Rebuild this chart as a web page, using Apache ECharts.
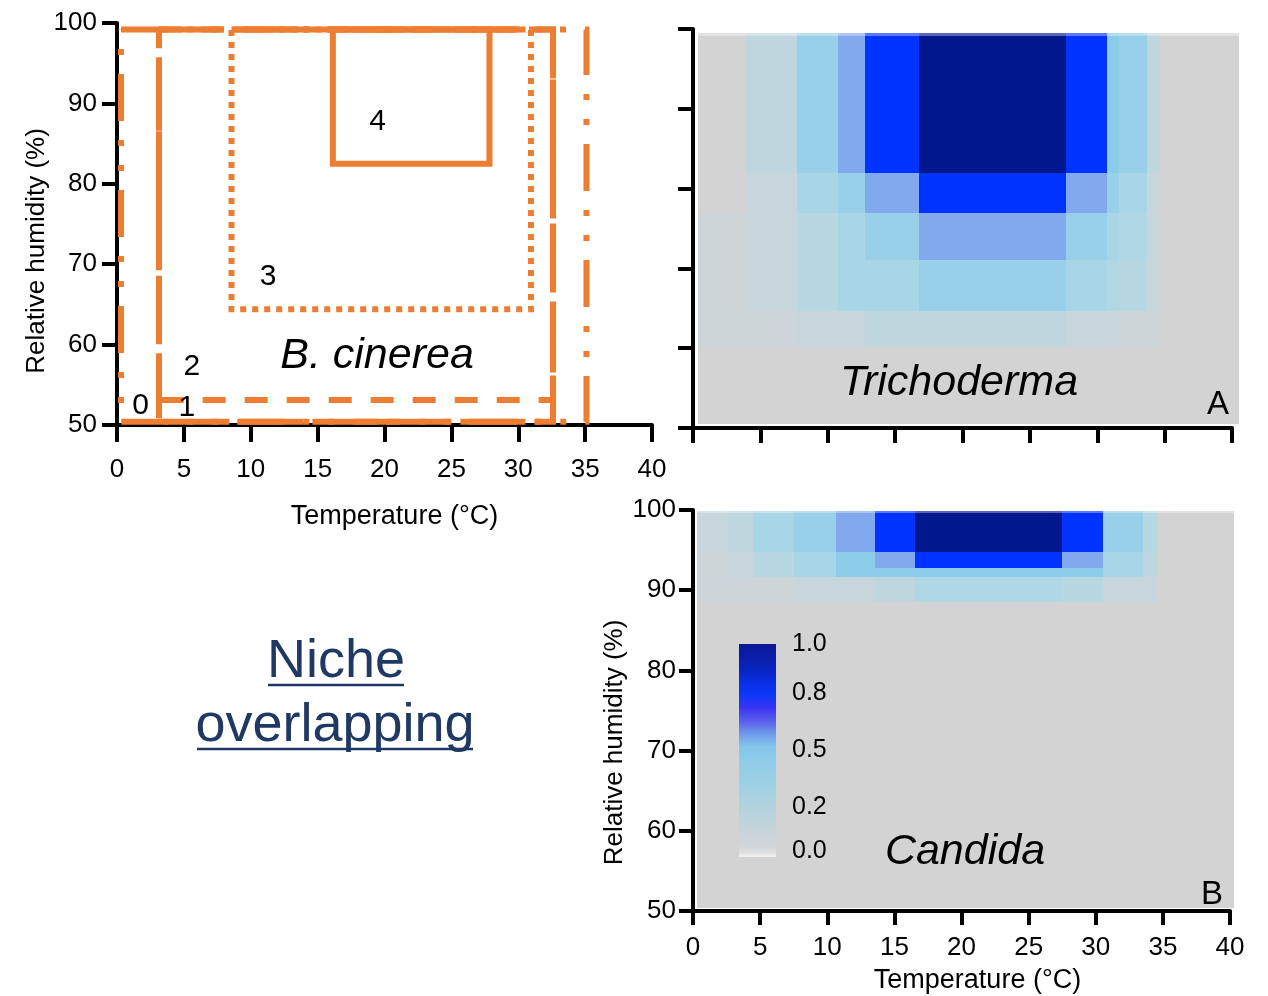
<!DOCTYPE html>
<html>
<head>
<meta charset="utf-8">
<script src="https://cdn.jsdelivr.net/npm/echarts@6/dist/echarts.min.js"></script>
<style>
  html, body { margin: 0; padding: 0; background: #ffffff; }
  #chart { width: 1268px; height: 996px; }
</style>
</head>
<body>
<div id="chart"></div>
<script>
// ---------- B. cinerea growth niches (temperature °C × relative humidity %) ----------
const nicheIds   = ['0', '1', '2', '3', '4'];
const nicheTemp  = [[0.3, 35.1], [3.14, 32.6], [3.14, 32.6], [8.56, 30.95], [16.14, 27.85]];
const nicheRH    = [[50.4, 99.2], [53.1, 99.2], [50.4, 99.2], [64.4, 99.2], [82.5, 99.2]];

// ---------- Trichoderma suitability grid ----------
const trichoTempEdges = [0.37, 3.86, 7.72, 10.76, 12.76, 16.77, 27.68, 30.72, 31.61, 33.69, 34.66, 40.5];
const trichoRHEdges   = [99.5, 81.95, 76.94, 71.05, 64.6, 60.15, 50.5];   // top → bottom
const trichoValues = [
  [0,    0.15, 0.4,  0.6,  0.8,  1.0,  0.8,  0.45, 0.4,  0.15, 0],
  [0,    0.1,  0.3,  0.4,  0.6,  0.8,  0.6,  0.4,  0.3,  0.1,  0],
  [0.05, 0.1,  0.2,  0.3,  0.4,  0.6,  0.4,  0.3,  0.25, 0.1,  0],
  [0.05, 0.1,  0.2,  0.3,  0.3,  0.4,  0.3,  0.25, 0.2,  0.1,  0],
  [0.05, 0.05, 0.1,  0.1,  0.15, 0.15, 0.1,  0.1,  0.05, 0.05, 0],
  [0,    0,    0,    0,    0,    0,    0,    0,    0,    0,    0]
];

// ---------- Candida suitability grid ----------
const candidaTempEdges = [0.3, 2.61, 4.47, 7.52, 10.65, 13.56, 16.54, 27.49, 30.54, 33.52, 34.56, 40.3];
const candidaRHEdges   = [99.9, 94.76, 92.77, 91.65, 88.53];              // top → bottom
const candidaValues = [
  [0.1,  0.15, 0.3,  0.4,  0.6,  0.8,  1.0,  0.8,  0.4,  0.2,  0],
  [0.05, 0.1,  0.2,  0.3,  0.45, 0.6,  0.8,  0.6,  0.3,  0.15, 0],
  [0.05, 0.1,  0.2,  0.3,  0.45, 0.45, 0.45, 0.45, 0.3,  0.15, 0],
  [0.05, 0.05, 0.05, 0.1,  0.1,  0.15, 0.25, 0.2,  0.1,  0.1,  0]
];
const candidaArea = [0.3, 40.3, 50.37, 99.9];   // plotted extent [tMin, tMax, rhMin, rhMax]

// ---------- colour scale ----------
const levelValues = [0, 0.05, 0.1, 0.15, 0.2, 0.25, 0.3, 0.4, 0.45, 0.6, 0.8, 1.0];
const levelColors = ['#D3D3D3', '#CED5D9', '#C6D6DC', '#C0D6DE', '#B6D8E2', '#AFD7E4',
                     '#A8D6E6', '#97D0E8', '#8BCDE9', '#82A8EE', '#0033FF', '#00188C'];
// colour-bar tick values and where each sits along the bar (0 = bottom, 1 = top)
const colorbarTicks   = [0, 0.2, 0.5, 0.8, 1.0];
const colorbarTickPos = [0.028, 0.235, 0.502, 0.77, 1.0];
const colorbarStops = [
  [0.00, '#F2F2F2'], [0.02, '#E0E0E0'], [0.05, '#D2D6D9'], [0.14, '#C4D4DA'],
  [0.24, '#B2D2DE'], [0.33, '#A0D0E4'], [0.45, '#8ECCE8'], [0.52, '#84C6EA'],
  [0.58, '#6E98EA'], [0.64, '#5A5CEC'], [0.70, '#3A34F4'], [0.76, '#0C38F6'],
  [0.82, '#0A30E4'], [0.88, '#0824C0'], [0.95, '#0A1CA4'], [1.00, '#0A1A96']
];

const FONT = 'Liberation Sans, Arial, Helvetica, sans-serif';
const ORANGE = '#ED7D31';
const NAVY_TEXT = '#1F3864';
const nicheDash = [[47, 19, 6, 19, 6, 19], [23, 19], [65, 9], [6, 6], 'solid'];

function cellItems(tEdges, rhEdges, values) {
  const items = [];
  values.forEach((row, r) => row.forEach((v, c) => {
    items.push([tEdges[c], tEdges[c + 1], rhEdges[r + 1], rhEdges[r], v]);
  }));
  return items;
}

function rectFromApi(api) {
  const a = api.coord([api.value(0), api.value(3)]);
  const b = api.coord([api.value(1), api.value(2)]);
  const x0 = Math.round(a[0]), y0 = Math.round(a[1]);
  const x1 = Math.round(b[0]), y1 = Math.round(b[1]);
  return { x: x0, y: y0, width: x1 - x0, height: y1 - y0 };
}

function renderCell(params, api) {
  return { type: 'rect', shape: rectFromApi(api), style: { fill: api.visual('color') } };
}

function renderHaze(params, api) {
  return { type: 'rect', shape: rectFromApi(api), style: { fill: 'rgba(255,255,255,0.35)' } };
}

function renderColorbar(params, api) {
  return {
    type: 'rect',
    shape: rectFromApi(api),
    style: {
      fill: new echarts.graphic.LinearGradient(0, 1, 0, 0,
        colorbarStops.map(s => ({ offset: s[0], color: s[1] })))
    }
  };
}

function rectPath(t, rh) {
  return [[t[0], rh[1]], [t[1], rh[1]], [t[1], rh[0]], [t[0], rh[0]], [t[0], rh[1]]];
}

const axisLine = { show: true, onZero: false, lineStyle: { color: '#000', width: 4 } };
const tickStyle = (len) => ({ show: true, length: len, lineStyle: { color: '#000', width: 4 } });
const textBase = { fontFamily: FONT, color: '#000' };

function textLabel(size, extra) {
  return Object.assign({
    show: true, position: 'inside', formatter: p => p.data[2],
    fontSize: size, fontFamily: FONT, color: '#000', textBorderWidth: 0, opacity: 1
  }, extra || {});
}

const trichoItems = cellItems(trichoTempEdges, trichoRHEdges, trichoValues);
const candidaItems = [[candidaArea[0], candidaArea[1], candidaArea[2], candidaArea[3], 0]]
  .concat(cellItems(candidaTempEdges, candidaRHEdges, candidaValues));

const series = [];

// niche rectangles
nicheIds.forEach((id, i) => {
  series.push({
    type: 'line', xAxisIndex: 0, yAxisIndex: 0, name: 'niche ' + id,
    data: rectPath(nicheTemp[i], nicheRH[i]),
    symbol: 'none', silent: true, clip: false, z: 3,
    lineStyle: { color: ORANGE, width: 6, type: nicheDash[i], cap: 'butt', join: 'miter' }
  });
});

// niche labels and species name
series.push({
  type: 'scatter', xAxisIndex: 0, yAxisIndex: 0, symbolSize: 0, silent: true, z: 4,
  itemStyle: { color: '#000' },
  data: [[1.76, 52.4, '0'], [5.23, 52.2, '1'], [5.6, 57.3, '2'], [11.3, 68.4, '3'], [19.48, 87.7, '4']],
  label: textLabel(30)
});
series.push({
  type: 'scatter', xAxisIndex: 0, yAxisIndex: 0, symbolSize: 0, silent: true, z: 4,
  itemStyle: { color: '#000' },
  data: [[19.44, 58.56, 'B. cinerea']],
  label: textLabel(43, { fontStyle: 'italic' })
});

// Trichoderma cells (index used by visualMap)
const trichoIndex = series.length;
series.push({
  type: 'custom', xAxisIndex: 1, yAxisIndex: 1, renderItem: renderCell, clip: false, silent: true,
  encode: { x: [0, 1], y: [2, 3] }, data: trichoItems, z: 1
});
series.push({
  type: 'custom', xAxisIndex: 1, yAxisIndex: 1, renderItem: renderHaze, clip: false, silent: true,
  encode: { x: [0, 1], y: [2, 3] }, data: [[trichoTempEdges[0], 40.5, 99.15, 99.5]], z: 2
});
series.push({
  type: 'scatter', xAxisIndex: 1, yAxisIndex: 1, symbolSize: 0, silent: true, z: 4,
  itemStyle: { color: '#000' },
  data: [[19.74, 55.64, 'Trichoderma']],
  label: textLabel(43, { fontStyle: 'italic' })
});

// Candida cells
const candidaIndex = series.length;
series.push({
  type: 'custom', xAxisIndex: 2, yAxisIndex: 2, renderItem: renderCell, clip: false, silent: true,
  encode: { x: [0, 1], y: [2, 3] }, data: candidaItems, z: 1
});
series.push({
  type: 'custom', xAxisIndex: 2, yAxisIndex: 2, renderItem: renderHaze, clip: false, silent: true,
  encode: { x: [0, 1], y: [2, 3] }, data: [[candidaArea[0], candidaArea[1], 99.6, 99.9]], z: 2
});
series.push({
  type: 'scatter', xAxisIndex: 2, yAxisIndex: 2, symbolSize: 0, silent: true, z: 4,
  itemStyle: { color: '#000' },
  data: [[20.26, 57.36, 'Candida']],
  label: textLabel(43, { fontStyle: 'italic' })
});

// panel letters
series.push({
  type: 'scatter', xAxisIndex: 1, yAxisIndex: 1, symbolSize: 0, silent: true, z: 4,
  itemStyle: { color: '#000' },
  data: [[38.96, 52.9, 'A']],
  label: textLabel(33)
});
series.push({
  type: 'scatter', xAxisIndex: 2, yAxisIndex: 2, symbolSize: 0, silent: true, z: 4,
  itemStyle: { color: '#000' },
  data: [[38.66, 52.0, 'B']],
  label: textLabel(33)
});

// colour bar and its scale labels
series.push({
  type: 'custom', xAxisIndex: 3, yAxisIndex: 3, renderItem: renderColorbar, clip: false, silent: true,
  encode: { x: [0, 1], y: [2, 3] }, data: [[0, 1, 0, 1]], z: 5
});
series.push({
  type: 'scatter', xAxisIndex: 3, yAxisIndex: 3, symbolSize: 0, silent: true, z: 6,
  itemStyle: { color: '#000' },
  data: colorbarTicks.map((v, i) => [1, colorbarTickPos[i], v.toFixed(1)]),
  label: textLabel(25, { position: 'right', distance: 16 })
});

const option = {
  backgroundColor: '#ffffff',
  animation: false,
  textStyle: { fontFamily: FONT },
  grid: [
    { left: 117, top: 23, width: 535, height: 402 },
    { left: 693, top: 29, width: 539, height: 399 },
    { left: 693, top: 510, width: 537, height: 401 },
    { left: 739, top: 644, width: 37, height: 213 }
  ],
  xAxis: [
    {
      gridIndex: 0, type: 'value', min: 0, max: 40, interval: 5,
      name: 'Temperature (°C)', nameLocation: 'middle', nameGap: 78,
      nameTextStyle: { fontSize: 27, ...textBase, padding: [0, 0, 0, 20] },
      axisLine, axisTick: tickStyle(17), splitLine: { show: false },
      axisLabel: { fontSize: 26, margin: 32, ...textBase }
    },
    {
      gridIndex: 1, type: 'value', min: 0, max: 40, interval: 5,
      axisLine, axisTick: tickStyle(15), splitLine: { show: false },
      axisLabel: { show: false }
    },
    {
      gridIndex: 2, type: 'value', min: 0, max: 40, interval: 5,
      name: 'Temperature (°C)', nameLocation: 'middle', nameGap: 56,
      nameTextStyle: { fontSize: 27, ...textBase, padding: [0, 0, 0, 32] },
      axisLine, axisTick: tickStyle(14), splitLine: { show: false },
      axisLabel: { fontSize: 26, margin: 24, ...textBase }
    },
    {
      gridIndex: 3, type: 'value', min: 0, max: 1, show: false
    }
  ],
  yAxis: [
    {
      gridIndex: 0, type: 'value', min: 50, max: 100, interval: 10,
      name: 'Relative humidity (%)', nameLocation: 'middle', nameGap: 67,
      nameTextStyle: { fontSize: 26, ...textBase, padding: [0, 54, 0, 0] },
      axisLine, axisTick: tickStyle(15), splitLine: { show: false },
      axisLabel: { fontSize: 26, margin: 20, ...textBase }
    },
    {
      gridIndex: 1, type: 'value', min: 50, max: 100, interval: 10,
      axisLine, axisTick: tickStyle(15), splitLine: { show: false },
      axisLabel: { show: false }
    },
    {
      gridIndex: 2, type: 'value', min: 50, max: 100, interval: 10,
      name: 'Relative humidity (%)', nameLocation: 'middle', nameGap: 65,
      nameTextStyle: { fontSize: 26, ...textBase, padding: [0, 64, 0, 0] },
      axisLine, axisTick: tickStyle(14), splitLine: { show: false },
      axisLabel: { fontSize: 26, margin: 17, ...textBase }
    },
    {
      gridIndex: 3, type: 'value', min: 0, max: 1, show: false
    }
  ],
  visualMap: [{
    type: 'piecewise', show: false, dimension: 4,
    seriesIndex: [trichoIndex, candidaIndex],
    pieces: levelValues.map((v, i) => ({ gt: v - 0.01, lte: v + 0.01, color: levelColors[i] }))
  }],
  graphic: [
    { type: 'text', x: 336, y: 662, z: 10,
      style: { text: 'Niche', fontSize: 54, fontFamily: FONT, fill: NAVY_TEXT,
               align: 'center', verticalAlign: 'middle' } },
    { type: 'line', z: 10, shape: { x1: 268, y1: 685, x2: 404, y2: 685 },
      style: { stroke: NAVY_TEXT, lineWidth: 2.5 } },
    { type: 'text', x: 335, y: 726, z: 10,
      style: { text: 'overlapping', fontSize: 54, fontFamily: FONT, fill: NAVY_TEXT,
               align: 'center', verticalAlign: 'middle' } },
    { type: 'line', z: 10, shape: { x1: 197, y1: 749, x2: 473, y2: 749 },
      style: { stroke: NAVY_TEXT, lineWidth: 2.5 } }
  ],
  series
};

const chart = echarts.init(document.getElementById('chart'), null, { renderer: 'canvas' });
chart.setOption(option);
</script>
</body>
</html>
